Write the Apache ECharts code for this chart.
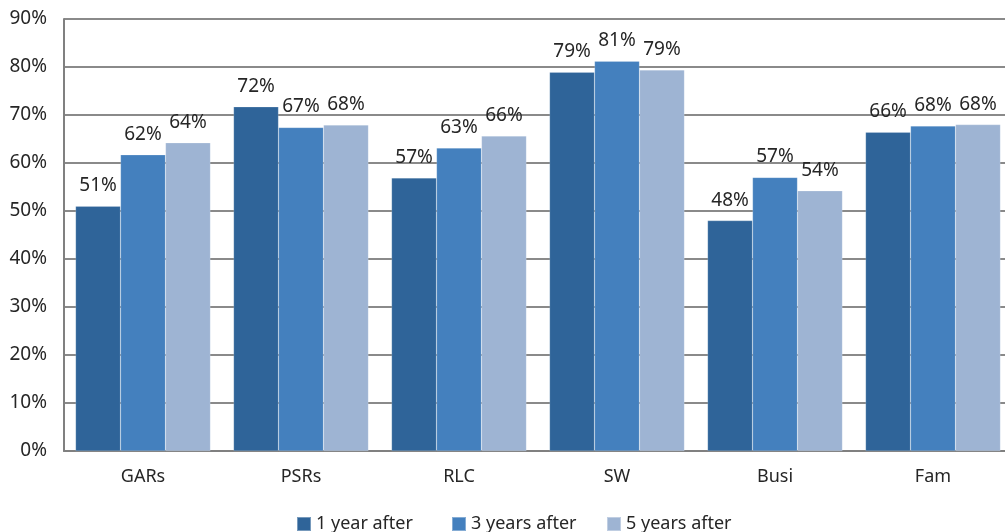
<!DOCTYPE html>
<html>
<head>
<meta charset="utf-8">
<script src="https://cdn.jsdelivr.net/npm/echarts@6/dist/echarts.min.js"></script>
<style>html,body{margin:0;padding:0;background:#fff;overflow:hidden;width:1005px;height:532px;}#c{width:1012px;height:532px;}</style>
</head>
<body>
<div id="c"></div>
<script>
const categories = ['GARs', 'PSRs', 'RLC', 'SW', 'Busi', 'Fam'];
const seriesNames = ['1 year after', '3 years after', '5 years after'];
const oneYear = [51.0, 71.7, 56.9, 78.9, 48.0, 66.4];
const threeYears = [61.7, 67.4, 63.1, 81.2, 57.0, 67.7];
const fiveYears = [64.2, 67.9, 65.6, 79.4, 54.2, 68.0];
const yTicks = [0, 10, 20, 30, 40, 50, 60, 70, 80, 90];
const colors = ['#2F6499', '#4480BE', '#9EB4D3'];
const legendLeft = [296, 451, 606];

const font = '"Noto Sans", "Open Sans", sans-serif';
const chart = echarts.init(document.getElementById('c'));
const values = [oneYear, threeYears, fiveYears];
chart.setOption({
  animation: false,
  grid: { left: 64, right: 0, top: 19, bottom: 81, containLabel: false },
  legend: seriesNames.map((n, i) => ({
    top: 515, left: legendLeft[i], padding: 0,
    itemWidth: 14, itemHeight: 14, itemGap: 0,
    icon: 'rect',
    textStyle: { fontSize: 18, color: '#262626', fontFamily: font },
    data: [n]
  })),
  xAxis: {
    type: 'category', data: categories,
    axisLine: { lineStyle: { color: '#808080', width: 2 } },
    axisTick: { show: false },
    axisLabel: { fontSize: 18, color: '#262626', fontFamily: font, margin: 17 }
  },
  yAxis: {
    type: 'value', min: yTicks[0], max: yTicks[yTicks.length - 1], interval: 10,
    axisLine: { show: true, lineStyle: { color: '#808080', width: 2 } },
    axisTick: { show: false },
    splitLine: { lineStyle: { color: '#8a8a8a', width: 2 } },
    axisLabel: { fontSize: 19, color: '#262626', fontFamily: font, margin: 17, formatter: v => v + '%' }
  },
  series: seriesNames.map((n, i) => ({
    name: n, type: 'bar', data: values[i],
    barGap: '0%', barCategoryGap: '14.6%',
    itemStyle: { color: colors[i], borderColor: 'rgba(255,255,255,0.35)', borderWidth: 0.5 },
    label: {
      show: true, position: 'top', distance: 11,
      fontSize: 19, color: '#262626', fontFamily: font,
      formatter: p => Math.round(p.value) + '%'
    }
  }))
});
</script>
</body>
</html>
